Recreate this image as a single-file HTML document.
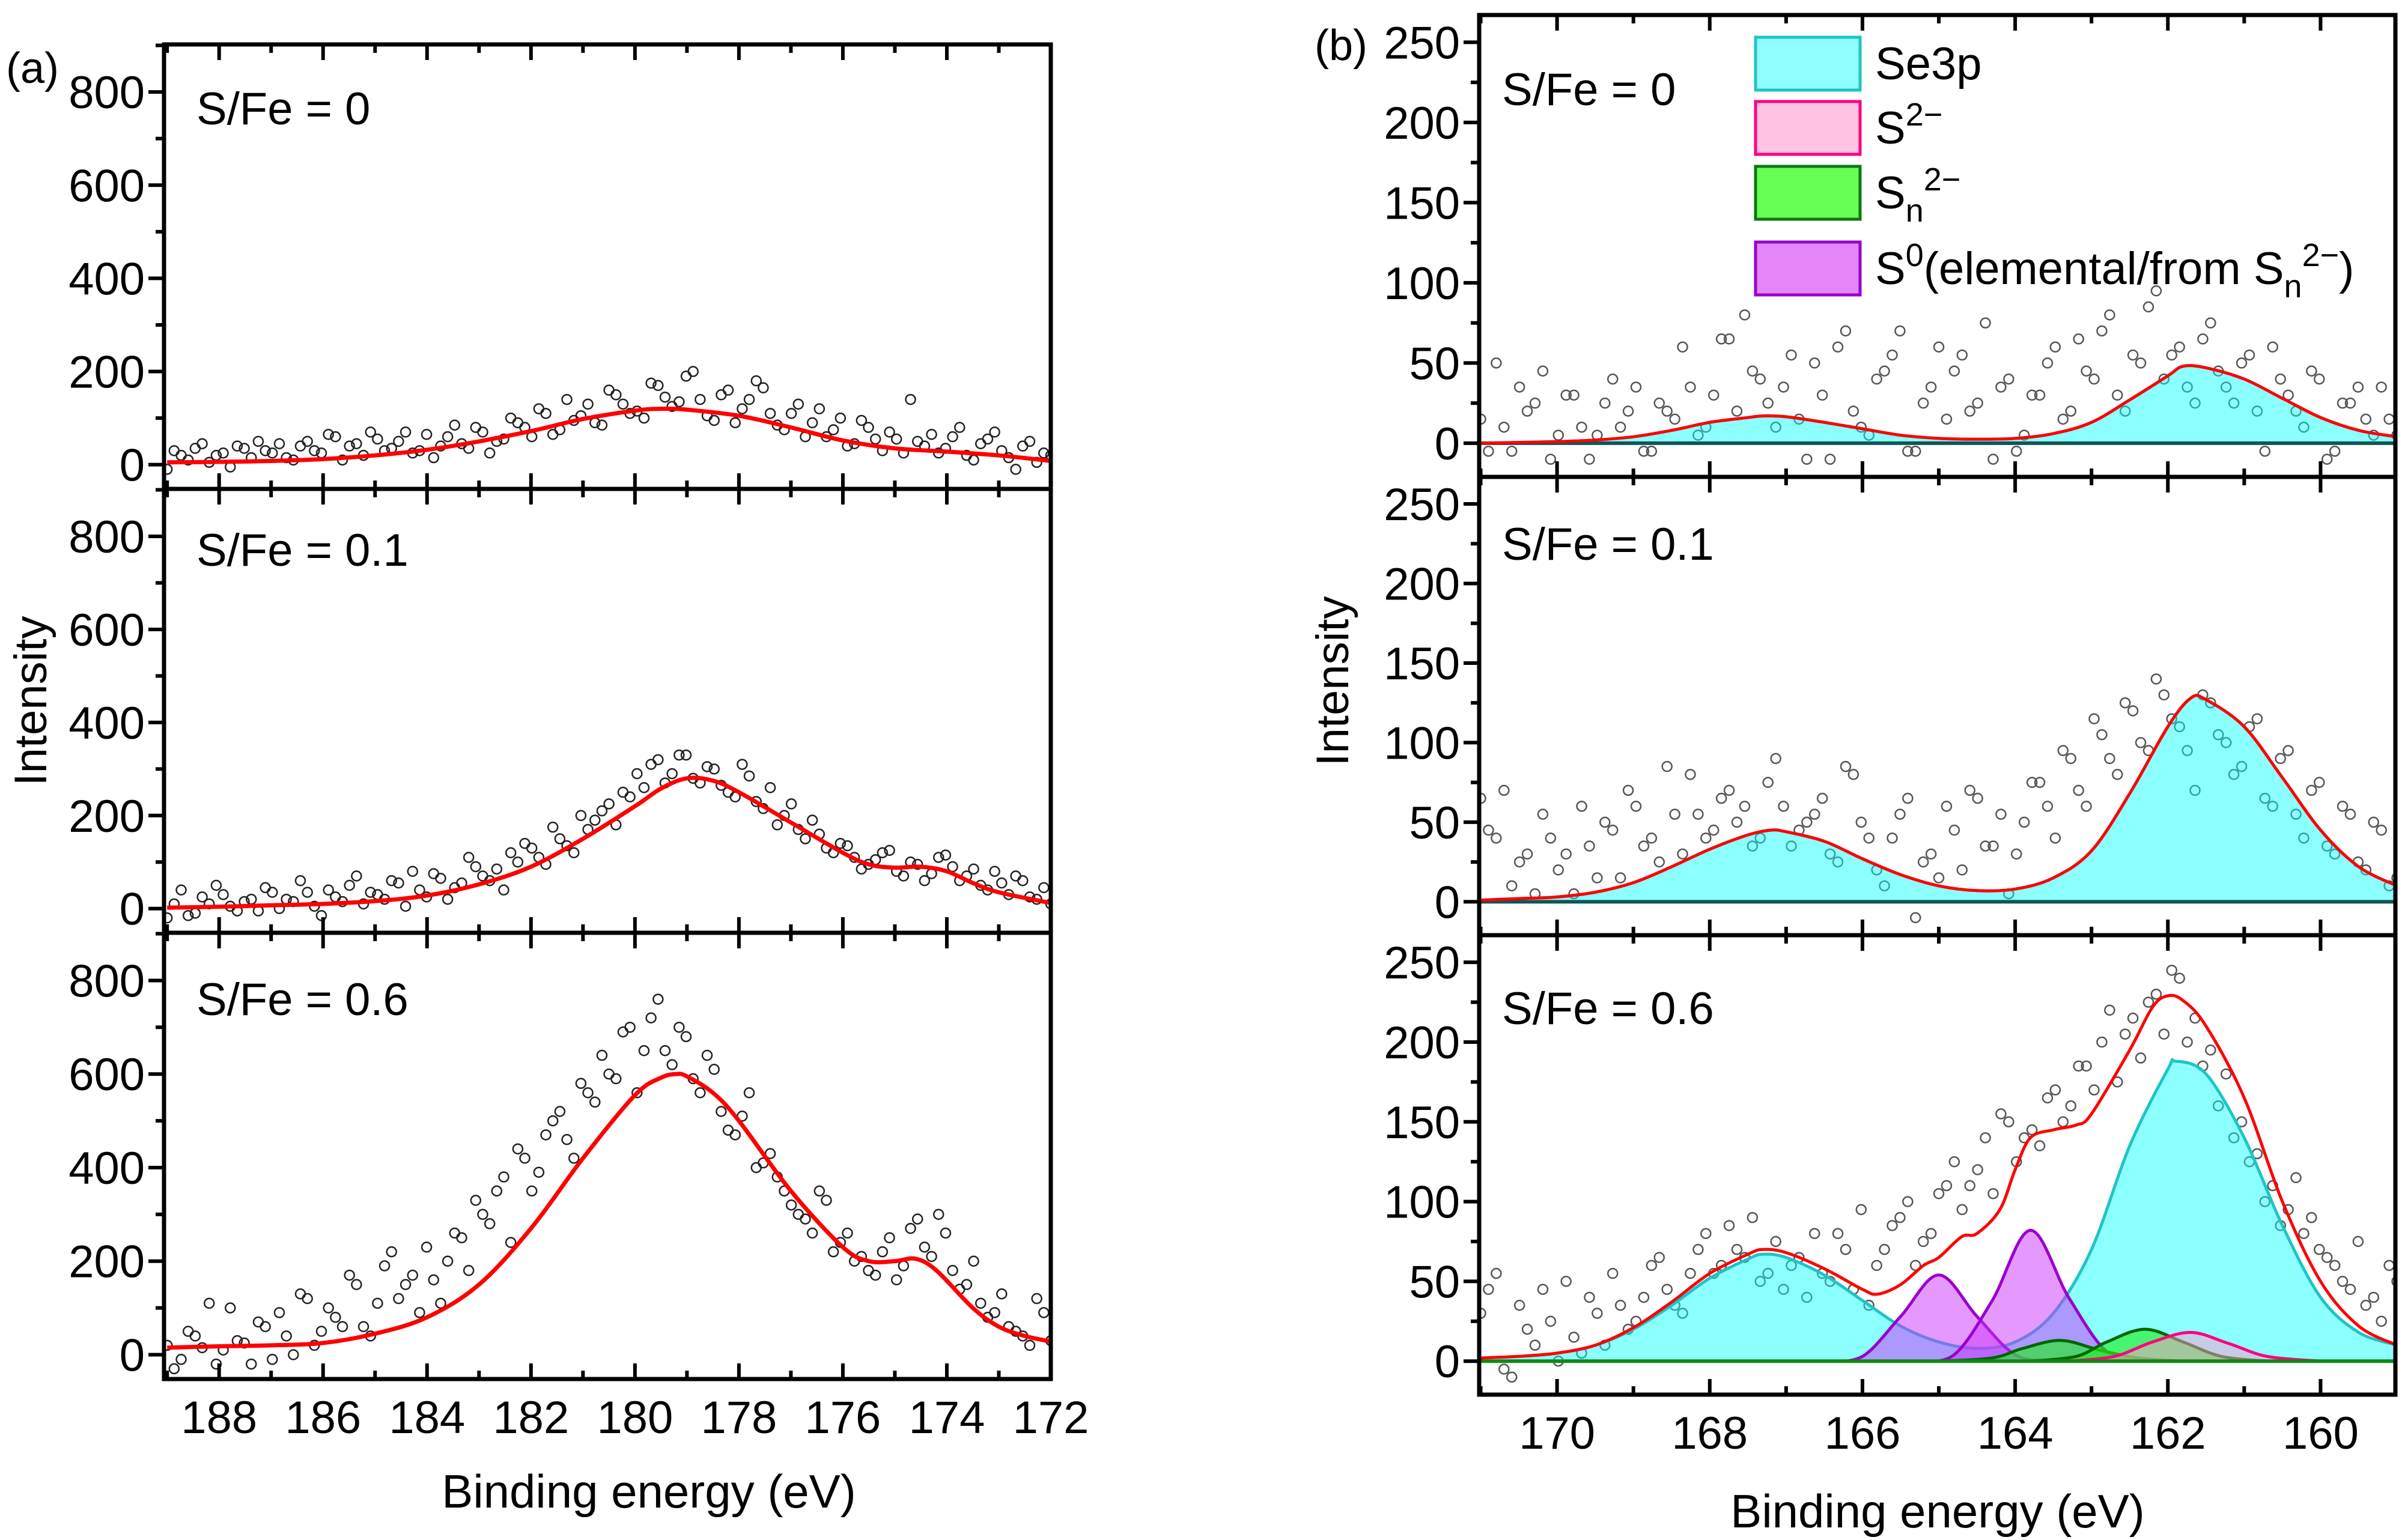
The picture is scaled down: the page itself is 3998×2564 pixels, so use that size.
<!DOCTYPE html>
<html><head><meta charset="utf-8">
<style>
html,body{margin:0;padding:0;background:#fff;}
svg{display:block;font-family:"Liberation Sans",Arial,sans-serif;}
</style></head>
<body>
<svg id="chart" width="3998" height="2564" viewBox="0 0 3998 2564" xmlns="http://www.w3.org/2000/svg"></svg>
<script>
// ---------- Panel (a) data ----------
const aXTicks = [188,186,184,182,180,178,176,174,172];
const aYTicks = [0,200,400,600,800];
const aScatterRange = [189, 172];
const aScatter0 = [-10,20,35,5,25,40,15,30,45,10,50,25,60,40,20,55,35,70,30,15,60,45,80,25,55,90,60,110,75,95,130,85,150,110,100,170,125,190,140,95,160,120,180,110,75,130,90,60,100,45,80,30,55,140,40,25,60,20,45,70,15,40,5,20];
const aScatter0b = [30,10,45,20,-5,35,50,25,15,40,30,65,10,45,70,30,50,25,65,40,85,35,70,50,100,80,120,65,140,105,90,160,130,115,175,145,135,200,105,150,90,140,165,85,110,60,120,75,40,95,55,70,25,50,65,35,80,10,55,30,-10,50,25,0];
const aScatter1 = [-20,40,-10,10,30,-5,20,45,0,15,35,-15,25,50,10,30,60,5,40,75,20,55,90,60,40,100,130,95,150,120,170,210,180,240,260,320,290,330,270,300,250,310,230,260,200,170,190,130,140,110,95,120,80,100,60,110,90,70,50,80,30,60,20,10];
const aScatter1b = [10,-15,25,50,5,15,-5,35,20,60,5,40,15,70,35,20,55,80,25,65,45,110,70,85,120,140,110,175,135,200,190,225,250,290,310,270,330,280,305,265,240,285,215,180,225,150,160,120,135,85,105,125,70,95,75,115,60,85,40,55,70,25,45,5];
const aScatter2 = [20,-10,40,110,10,30,-20,60,90,0,120,50,80,170,60,110,220,150,90,160,200,250,330,280,380,440,350,470,520,420,560,640,590,700,650,760,620,680,560,610,480,510,400,430,350,300,260,330,240,200,180,220,160,270,230,300,180,150,110,90,60,40,120,30];
const aScatter2b = [-30,50,15,-20,100,25,70,-10,40,130,20,100,60,150,40,190,120,170,230,110,260,180,300,350,240,420,390,500,460,580,540,600,690,560,720,650,700,590,640,520,470,560,410,380,320,290,350,220,260,210,170,250,190,290,210,260,140,200,80,130,50,20,90,-20];
const aFit0X = [189,188,187,186,185,184,183,182,181,180,179.5,179,178,177,176,175,174,173,172];
const aFit0Y = [5,6,8,12,20,32,50,72,98,116,120,118,105,80,52,35,28,20,8];
const aFit1X = [189,188,187,186,185,184,183,182,181,180,179.5,179,178.5,178,177,176,175.5,175,174.5,174,173.5,173,172];
const aFit1Y = [2,4,7,10,16,28,52,90,150,220,258,280,275,250,185,120,95,88,90,80,55,35,12];
const aFit2X = [189,188,187,186,185,184,183,182,181,180,179.5,179.2,179,178.5,178,177,176,175.5,175,174.6,174.2,173.5,173,172.5,172];
const aFit2Y = [15,18,20,25,45,80,150,270,420,555,592,600,595,560,500,350,230,200,200,205,180,100,60,40,28];

// ---------- Panel (b) data ----------
const bXTicks = [170,168,166,164,162,160];
const bYTicks = [0,50,100,150,200,250];
const bScatterRange = [171, 159];
const bScatter0 = [15,50,-5,20,45,5,30,-10,25,10,35,-5,20,60,5,30,65,80,40,10,55,-10,30,60,20,5,45,70,-5,35,15,55,25,-10,40,5,30,60,20,45,70,30,55,85,40,60,25,75,35,50,20,60,30,10,40,-5,25,15,35,5];
const bScatter0b = [-5,10,35,25,-10,30,10,5,40,20,-5,25,15,35,10,65,20,45,25,35,15,50,-10,70,10,40,55,-5,25,60,45,20,75,35,-5,30,50,15,65,40,80,20,50,95,55,35,65,45,25,55,-5,40,20,45,-10,25,35,5,15,30];
const bScatter1 = [65,40,10,30,55,20,5,35,50,15,60,40,85,30,55,45,70,60,40,90,35,50,65,25,80,40,10,55,-10,30,60,20,65,35,5,50,75,40,90,60,105,80,120,95,130,110,70,125,100,85,115,60,95,40,75,30,55,20,45,15];
const bScatter1b = [45,70,25,5,40,30,60,15,45,70,35,25,55,80,40,65,50,35,75,60,45,55,30,85,50,20,40,65,25,15,45,70,35,55,30,75,60,95,70,115,90,125,100,140,115,95,130,105,80,110,65,90,55,70,35,60,25,50,10,40];
const bScatter2 = [30,55,-10,20,45,0,15,40,10,35,25,60,45,30,70,55,85,65,50,75,60,40,55,80,45,35,70,90,60,80,110,95,120,105,150,140,135,170,160,185,200,175,215,225,205,240,215,195,180,150,130,110,95,80,70,60,45,35,25,50];
const bScatter2b = [45,-5,35,10,25,50,5,30,55,20,40,65,35,55,80,60,70,90,55,45,65,80,50,70,95,60,85,100,75,105,125,110,140,155,125,145,165,150,185,170,220,205,190,230,245,200,185,160,140,125,100,85,115,90,65,50,75,40,60,30];
const bFit0X = [171,170.5,170,169.5,169,168.5,168,167.5,167.3,167,166.5,166,165.5,165,164.5,164,163.5,163,162.5,162,161.8,161.5,161,160.5,160,159.5,159];
const bFit0Y = [0,0.5,1,2,4,8,13,16,17,16.5,13,9,5,3,2.5,3,6,13,27,42,48,47,40,28,16,8,4];
const bFit1X = [171,170.5,170,169.5,169,168.5,168,167.5,167.2,167,166.5,166,165.5,165,164.5,164,163.5,163,162.5,162,161.7,161.5,161,160.5,160,159.5,159];
const bFit1Y = [1,2,3,6,12,22,33,42,45,44,38,27,17,10,7,8,15,32,68,110,128,127,110,78,45,22,10];
const bSe2X = [171,170.5,170,169.5,169,168.5,168,167.5,167.3,167,166.5,166,165.5,165,164.5,164,163.5,163,162.5,162,161.9,161.5,161,160.5,160,159.5,159];
const bSe2Y = [2,3,5,10,20,35,52,64,67,65,54,38,22,12,8,12,30,70,135,183,188,180,140,85,40,18,10];
const bS0aX = [166.5,166,165.5,165,164.5,164,163.5];
const bS0aY = [0,3,28,54,28,4,0];
const bS0bX = [165.3,164.8,164.3,163.8,163.3,162.8,162.3];
const bS0bY = [0,4,38,82,40,6,0];
const bSnaX = [165,164.3,163.9,163.4,162.9,162.4,161.8];
const bSnaY = [0,2,8,13,7,2,0];
const bSnbX = [163.8,163.2,162.8,162.3,161.8,161.3,160.7];
const bSnbY = [0,3,12,20,12,3,0];
const bS2X = [163.3,162.7,162.2,161.7,161.2,160.7,160];
const bS2Y = [0,3,12,18,11,3,0];
const bFit2X = [171,170.5,170,169.5,169,168.5,168,167.5,167.3,167,166.5,166,165.8,165.5,165.2,165,164.7,164.5,164.2,164,163.8,163.5,163.2,163,162.5,162.2,162,161.8,161.5,161,160.5,160,159.5,159];
const bFit2Y = [2,3,5,10,21,37,55,67,70,68,58,45,42,48,60,65,78,80,95,120,140,145,148,155,195,222,229,226,210,165,100,50,22,10];

const NS = "http://www.w3.org/2000/svg";
const svg = document.getElementById('chart');
function mk(tag, attrs, parent){
  const e = document.createElementNS(NS, tag);
  for (const k in attrs) e.setAttribute(k, attrs[k]);
  (parent||svg).appendChild(e);
  return e;
}
function smoothPath(pts){
  let d = 'M' + pts[0][0].toFixed(1) + ',' + pts[0][1].toFixed(1);
  for (let i=0;i<pts.length-1;i++){
    const p0=pts[Math.max(0,i-1)], p1=pts[i], p2=pts[i+1], p3=pts[Math.min(pts.length-1,i+2)];
    const c1x=p1[0]+(p2[0]-p0[0])/6, c1y=p1[1]+(p2[1]-p0[1])/6;
    const c2x=p2[0]-(p3[0]-p1[0])/6, c2y=p2[1]-(p3[1]-p1[1])/6;
    d += ' C'+c1x.toFixed(1)+','+c1y.toFixed(1)+' '+c2x.toFixed(1)+','+c2y.toFixed(1)+' '+p2[0].toFixed(1)+','+p2[1].toFixed(1);
  }
  return d;
}

function panel(cfg){
  const g = mk('g', {});
  
  
  const xs = v => cfg.x0 + (cfg.xmin - v)/(cfg.xmin - cfg.xmax)*(cfg.x1-cfg.x0);
  const ys = v => cfg.y1 - (v - cfg.ymin)/(cfg.ymax - cfg.ymin)*(cfg.y1-cfg.y0);
  const clipId = 'clip-'+cfg.name;
  const cp = mk('clipPath', {id: clipId}, g);
  mk('rect', {x:cfg.x0, y:cfg.y0, width:cfg.x1-cfg.x0, height:cfg.y1-cfg.y0}, cp);
  const inner = mk('g', {'clip-path':'url(#'+clipId+')'}, g);
  // scatter (two interleaved sets)
  cfg.scatters.forEach((arr, si)=>{
    const n = arr.length;
    const step = (cfg.sr[1]-cfg.sr[0])/(n-1);
    arr.forEach((v,i)=>{
      const xv = cfg.sr[0] + step*i + (si ? step/2 : 0);
      const c = mk('circle', {cx:xs(xv), cy:ys(v), r:cfg.r, fill:'none', stroke:cfg.ptColor, 'stroke-width':2.5}, inner);
      
      
    });
  });
  // components
  (cfg.comps||[]).forEach(cm=>{
    const base = cm.base||0;
    const pts = cm.x.map((xv,i)=>[xs(xv), ys(cm.y[i])]);
    const d = smoothPath(pts) + ' L'+xs(cm.x[cm.x.length-1])+','+ys(base)+' L'+xs(cm.x[0])+','+ys(base)+' Z';
    const a = mk('path', {d:d, fill:cm.fill, 'fill-opacity':cm.op, stroke:'none'}, inner);
    
    
    const l = mk('path', {d:smoothPath(pts), fill:'none', stroke:cm.stroke, 'stroke-width':5}, inner);
    
    
  });
  if (cfg.baseline){
    const b = mk('line', {x1:cfg.x0, x2:cfg.x1, y1:ys(0), y2:ys(0), stroke:cfg.baseline, 'stroke-width':6}, inner);
    
    
  }
  // fit
  const fp = cfg.fitX.map((xv,i)=>[xs(xv), ys(cfg.fitY[i])]);
  const fit = mk('path', {d:smoothPath(fp), fill:'none', stroke:'#ff0000', 'stroke-width':cfg.fitW}, inner);
  
  
  // frame
  const fr = mk('rect', {x:cfg.x0, y:cfg.y0, width:cfg.x1-cfg.x0, height:cfg.y1-cfg.y0, fill:'none', stroke:'#000', 'stroke-width':7}, g);
  
  
  // x ticks (top and bottom, inward)
  const xstep = cfg.xTicks[0]-cfg.xTicks[1];
  for (let v=Math.ceil(cfg.xmax); v<=Math.floor(cfg.xmin); v+=xstep/2){
    const major = cfg.xTicks.includes(v);
    const L = major?26:14, X = xs(v);
    mk('line', {x1:X,x2:X,y1:cfg.y1,y2:cfg.y1-L,stroke:'#000','stroke-width':6}, g);
    mk('line', {x1:X,x2:X,y1:cfg.y0,y2:cfg.y0+L,stroke:'#000','stroke-width':6}, g);
  }
  // y ticks left
  const ystep = cfg.yTicks[1]-cfg.yTicks[0];
  for (let v=0; v<=cfg.ymax; v+=ystep/2){
    const major = cfg.yTicks.includes(v);
    const Y = ys(v);
    mk('line', {x1:cfg.x0-(major?26:14), x2:cfg.x0, y1:Y, y2:Y, stroke:'#000','stroke-width':6}, g);
  }
  cfg.yTicks.forEach(v=>{
    const t = mk('text', {x:cfg.x0-32, y:ys(v)+27, 'font-size':76, 'text-anchor':'end', fill:'#000'}, g);
    t.textContent = v;
    
    
  });
  if (cfg.showX){
    cfg.xTicks.forEach(v=>{
      const t = mk('text', {x:xs(v), y:cfg.y1+90, 'font-size':76, 'text-anchor':'middle', fill:'#000'}, g);
      t.textContent = v;
      
      
    });
  }
  const lab = mk('text', {x:cfg.labX, y:cfg.labY, 'font-size':76, fill:'#000'}, g);
  lab.textContent = cfg.label;
  
  
}

const A = {x0:273, x1:1749, xmin:189.06, xmax:172, ymin:-52, ymax:902, xTicks:aXTicks, yTicks:aYTicks, sr:aScatterRange, r:8, ptColor:'#222', fitW:7, labX:327};
panel(Object.assign({}, A, {name:'panel-a-sfe-0', y0:74, y1:814, scatters:[aScatter0, aScatter0b], fitX:aFit0X, fitY:aFit0Y, label:'S/Fe = 0', labY:207}));
panel(Object.assign({}, A, {name:'panel-a-sfe-0.1', y0:814, y1:1553, scatters:[aScatter1, aScatter1b], fitX:aFit1X, fitY:aFit1Y, label:'S/Fe = 0.1', labY:942}));
panel(Object.assign({}, A, {name:'panel-a-sfe-0.6', y0:1553, y1:2296, scatters:[aScatter2, aScatter2b], fitX:aFit2X, fitY:aFit2Y, label:'S/Fe = 0.6', labY:1690, showX:true}));

const B = {x0:2462, x1:3987, xmin:171.02, xmax:159.02, ymin:-21, ymax:267, xTicks:bXTicks, yTicks:bYTicks, sr:bScatterRange, r:8, ptColor:'#555', fitW:5, labX:2500};
const cyan = {fill:'#00ffff', op:0.45, stroke:'#1fc4c4'};
panel(Object.assign({}, B, {name:'panel-b-sfe-0', y0:25, y1:794, scatters:[bScatter0, bScatter0b], fitX:bFit0X, fitY:bFit0Y, label:'S/Fe = 0', labY:175, baseline:'#115555',
  comps:[Object.assign({name:'se3p', x:bFit0X, y:bFit0Y}, cyan)]}));
panel(Object.assign({}, B, {name:'panel-b-sfe-0.1', y0:794, y1:1557, scatters:[bScatter1, bScatter1b], fitX:bFit1X, fitY:bFit1Y, label:'S/Fe = 0.1', labY:932, baseline:'#115555',
  comps:[Object.assign({name:'se3p', x:bFit1X, y:bFit1Y}, cyan)]}));
panel(Object.assign({}, B, {name:'panel-b-sfe-0.6', y0:1557, y1:2322, scatters:[bScatter2, bScatter2b], fitX:bFit2X, fitY:bFit2Y, label:'S/Fe = 0.6', labY:1705, baseline:'#118811', showX:true,
  comps:[
    Object.assign({name:'se3p', x:bSe2X, y:bSe2Y}, cyan),
    {name:'s0-peak-1', x:bS0aX, y:bS0aY, fill:'#cc33ff', op:0.5, stroke:'#9900cc'},
    {name:'s0-peak-2', x:bS0bX, y:bS0bY, fill:'#cc33ff', op:0.5, stroke:'#9900cc'},
    {name:'sn-peak-1', x:bSnaX, y:bSnaY, fill:'#22ee22', op:0.65, stroke:'#006600'},
    {name:'sn-peak-2', x:bSnbX, y:bSnbY, fill:'#22ee22', op:0.65, stroke:'#006600'},
    {name:'s2-peak', x:bS2X, y:bS2Y, fill:'#ff99cc', op:0.5, stroke:'#ff0080'}
  ]}));

// axis titles and panel letters
function txt(name, x, y, s, size, extra){
  const t = mk('text', Object.assign({x:x, y:y, 'font-size':size, fill:'#000'}, extra||{}));
  t.textContent = s;
  
  
  return t;
}
txt('panel-a-letter', 10, 138, '(a)', 72);
txt('panel-b-letter', 2188, 100, '(b)', 72);
txt('x-axis-title-a', 1080, 2510, 'Binding energy (eV)', 78, {'text-anchor':'middle'});
txt('x-axis-title-b', 3225, 2543, 'Binding energy (eV)', 78, {'text-anchor':'middle'});
txt('y-axis-title-a', 0, 0, 'Intensity', 76, {'text-anchor':'middle', transform:'translate(77,1167) rotate(-90)'});
txt('y-axis-title-b', 0, 0, 'Intensity', 76, {'text-anchor':'middle', transform:'translate(2244,1134) rotate(-90)'});

// legend
const leg = mk('g', {});


const legItems = [
  {y:62, fill:'#8ffdfd', stroke:'#1fc4c4', html:'Se3p'},
  {y:169, fill:'#ffc2e2', stroke:'#ff0080', html:'S<tspan dy="-30" font-size="54">2−</tspan>'},
  {y:277, fill:'#66ff55', stroke:'#117711', html:'S<tspan dy="22" font-size="54">n</tspan><tspan dy="-52" font-size="54">2−</tspan>'},
  {y:403, fill:'#e486f8', stroke:'#9900cc', html:'S<tspan dy="-30" font-size="54">0</tspan><tspan dy="30">(elemental/from S</tspan><tspan dy="22" font-size="54">n</tspan><tspan dy="-52" font-size="54">2−</tspan><tspan dy="30">)</tspan>'}
];
legItems.forEach(it=>{
  const r = mk('rect', {x:2922, y:it.y, width:174, height:88, fill:it.fill, stroke:it.stroke, 'stroke-width':5}, leg);
  
  
  const t = mk('text', {x:3121, y:it.y+70, 'font-size':76, fill:'#000'}, leg);
  t.innerHTML = it.html;
  
  
});
</script>
</body></html>
